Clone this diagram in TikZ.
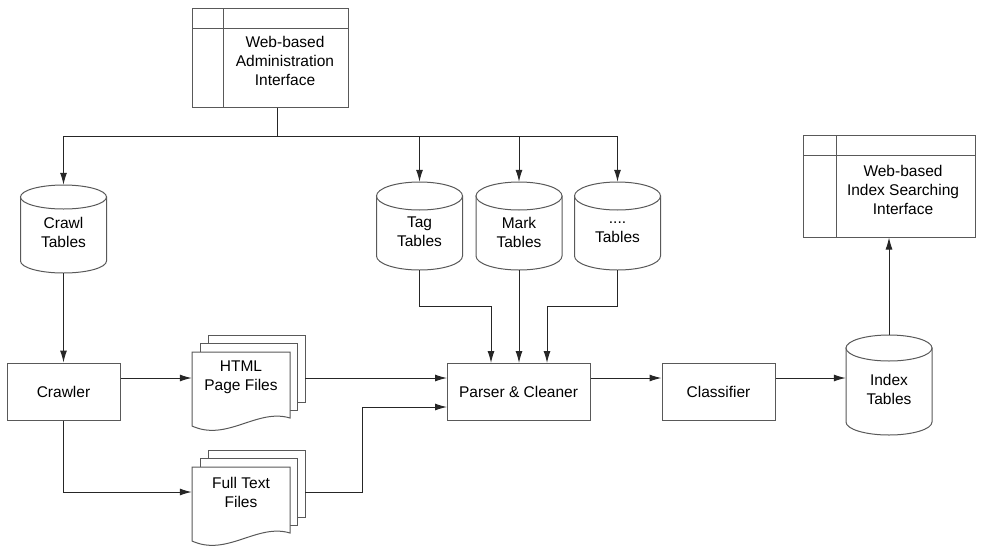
\documentclass[tikz,border=0pt]{standalone}
\usepackage{fontspec}
\setmainfont{Liberation Sans}
\usetikzlibrary{arrows.meta}
\tikzset{
  shp/.style={draw=black!65, line width=1pt, fill=white},
  box/.style={shp, inner sep=0pt, align=center, font=\fontsize{15.5}{19}\selectfont},
  txt/.style={inner sep=0pt, align=center, font=\fontsize{15.5}{19}\selectfont},
  ghost/.style={inner sep=0pt, draw=none},
  conn/.style={draw=black!85, line width=1pt},
  arr/.style={conn, -{Latex[length=12pt,width=7pt]}},
}
% cylinder: name, cx, top, bottom, ry, text, text offset
\newcommand\dbtank[7]{%
  \node[ghost, minimum width=86pt, minimum height={(#4)-(#3)}] (#1) at ({#2},{-((#3)+(#4))/2}) {};
  \path[shp] ({#2-43},{-((#3)+(#5))}) -- ({#2-43},{-((#4)-(#5))})
     arc[start angle=180, end angle=360, x radius=43, y radius=#5]
     -- ({#2+43},{-((#3)+(#5))}) -- cycle;
  \draw[shp] ({#2},{-((#3)+(#5))}) ellipse [x radius=43, y radius=#5];
  \node[txt] (#1-t) at ({#2},{-((#3)+(#4))/2-(#7)}) {#6};
}
% document stack: name, left, top, text
\newcommand\docstack[4]{%
  \draw[shp] ({#2+16},{-((#3)-17)}) rectangle ({#2+113},{-((#3)+50)});
  \draw[shp] ({#2+8},{-((#3)-9)}) rectangle ({#2+105},{-((#3)+58)});
  \draw[shp] ({#2},{-(#3)}) -- ({#2+98},{-(#3)}) -- ({#2+98},{-((#3)+66)})
     .. controls ({#2+65},{-((#3)+56)}) and ({#2+35},{-((#3)+90)}) .. ({#2},{-((#3)+74)}) -- cycle;
  \node[ghost, minimum width=98pt, minimum height=52pt] (#1) at ({#2+49},{-((#3)+26)}) {};
  \node[txt] (#1-t) at ({#2+49},{-((#3)+25)}) {#4};
  \coordinate (#1-r) at ({#2+113},{-((#3)+26)});
}
\begin{document}
\begin{tikzpicture}[x=1pt,y=1pt]
\useasboundingbox (0,0) rectangle (981,-554);

% admin interface
\node[box, minimum width=156pt, minimum height=99pt] (admin) at (270,-57.5) {};
\draw[shp] (223,-8) -- (223,-107);
\draw[shp] (192,-28) -- (348,-28);
\node[txt] (admin-t) at (285,-61) {Web-based\\Administration\\Interface};

% index searching interface
\node[box, minimum width=172pt, minimum height=102pt] (search) at (889,-186) {};
\draw[shp] (836,-135) -- (836,-237);
\draw[shp] (803,-155) -- (975,-155);
\node[txt] (search-t) at (903,-190) {Web-based\\Index Searching\\Interface};

% cylinders
\dbtank{crawltab}{63.5}{185}{273}{12}{Crawl\\Tables}{3}
\dbtank{tagtab}{419.5}{182}{270}{14}{Tag\\Tables}{6}
\dbtank{marktab}{519}{182}{270}{14}{Mark\\Tables}{6}
\dbtank{dottab}{617.5}{182}{270}{14}{....\\Tables}{6}
\dbtank{indextab}{889}{335}{435}{13}{Index\\Tables}{4}

% boxes
\node[box, minimum width=113pt, minimum height=57pt] (crawler) at (63.5,-391.5) {Crawler};
\node[box, minimum width=143pt, minimum height=57pt] (parser) at (518.5,-391.5) {Parser \& Cleaner};
\node[box, minimum width=113pt, minimum height=57pt] (classifier) at (718.5,-391.5) {Classifier};

% documents
\docstack{html}{192}{352}{HTML\\Page Files}
\docstack{fulltext}{192}{467}{Full Text\\Files}

% named points
\coordinate (bus) at (277,-136);
\coordinate (pinA) at (447,-378);
\coordinate (pinB) at (447,-407);
\coordinate (bend) at (362,-492);
\coordinate (inTag) at (491,-363);
\coordinate (inMark) at (519,-363);
\coordinate (inDot) at (547,-363);

% connectors from admin
\draw[conn] (admin.south -| bus) -- (bus);
\draw[arr] (bus) -| (crawltab.north);
\draw[arr] (bus) -| (tagtab.north);
\draw[arr] (bus) -| (marktab.north);
\draw[arr] (bus) -| (dottab.north);

% tables into parser
\draw[arr] (tagtab.south) -- ++(0,-36) -| (inTag);
\draw[arr] (marktab.south) -- (inMark);
\draw[arr] (dottab.south) -- ++(0,-36) -| (inDot);

% crawl path
\draw[arr] (crawltab.south) -- (crawltab.south |- crawler.north);
\draw[arr] (crawler.east |- pinA) -- (html.west |- pinA);
\draw[arr] (crawler.south) |- (fulltext.west |- bend);
\draw[arr] (html-r |- pinA) -- (pinA);
\draw[arr] (fulltext-r |- bend) -- (bend) |- (pinB);

% right side
\draw[arr] (parser.east |- pinA) -- (classifier.west |- pinA);
\draw[arr] (classifier.east |- pinA) -- (indextab.west |- pinA);
\draw[arr] (indextab.north) -- (search.south -| indextab.north);
\end{tikzpicture}
\end{document}
